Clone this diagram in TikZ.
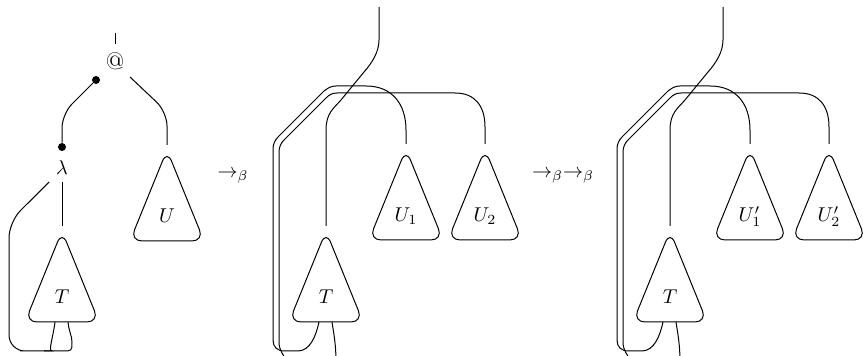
\documentclass[tikz,border=0pt]{standalone}
\usepackage{amsmath}

\tikzset{
  wire/.style={line width=0.5pt},
  tri/.style={line width=0.5pt, rounded corners=6pt},
  dot/.style={circle, fill, inner sep=0pt, minimum size=4pt}
}

% a subterm drawn as a rounded triangle, (#2,#3) is its tip
\newcommand{\subtree}[4]{%
  \draw[tri] (#2,#3-6) -- (#2-37,#3+85) -- (#2+37,#3+85) -- cycle;
  \node[anchor=base] (#1) at (#2,#3+67) {$#4$};
  \coordinate (#1-top) at (#2,#3-11);
  \coordinate (#1-l) at (#2-7,#3+85);
  \coordinate (#1-r) at (#2+6,#3+85);
}

\begin{document}
\begin{tikzpicture}[x=0.5pt, y=-0.5pt]
	\useasboundingbox (0,0) rectangle (863,356);
	\clip (0,0) rectangle (863,356);

	% Redex
	\node (app) at (115,61) {\large @};
	\coordinate (root1) at (115,33);
	\draw[wire] (root1) -- (115,44);
	\node (lam) at (62,168) {$\lambda$};
	\node[dot] (fun) at (96,80) {};
	\node[dot] (body) at (62,147) {};
	\subtree{T1}{62}{237}{T}
	\subtree{U}{167}{156}{U}
	\draw[wire, rounded corners=7pt] (fun) -- (62,114) -- (body);
	\draw[wire, rounded corners=7pt] (130,77) -- (167,112) -- (U-top);
	\draw[wire] (lam) -- (T1-top);
	% Bound variable loop
	\draw[wire, rounded corners=8pt] (lam.south west) -- (9,222) -- (9,351) -- (36,351) .. controls (48,351) and (53,338) .. (T1-l);
	\draw[wire] (T1-r) .. controls (69,332) and (72,336) .. (72,342) .. controls (72,351) .. (62,351) -- (44,351);

	\node (step1) at (233,177) {$\rightarrow_\beta$};

	% After one step
	\subtree{T2}{326}{237}{T}
	\subtree{UA}{406}{155}{U_1}
	\subtree{UB}{485}{155}{U_2}
	\coordinate (root2) at (379,7);
	\draw[wire] (root2) -- (379,40) .. controls (379,52) and (372,63) .. (364,72) -- (341,100) .. controls (334,108) and (326,113) .. (326,130) -- (T2-top);
	\draw[wire] (UA-top) -- (406,130) .. controls (406,105) and (393,86) .. (366,86) -- (336,86) .. controls (331,86) and (328,88) .. (324,91) -- (278,137) .. controls (275,140) and (273,144) .. (273,149) -- (273,340) .. controls (273,347) and (277,351) .. (285,351) -- (298,351) .. controls (310,351) and (316,336) .. (T2-l);
	\draw[wire] (UB-top) -- (485,127) .. controls (485,106) and (475,93) .. (455,93) -- (337,93) .. controls (332,93) and (329,95) .. (326,98) -- (284,140) .. controls (281,143) and (279,147) .. (279,152) -- (279,342) .. controls (279,350) and (283,355) .. (288,362);
	\draw[wire] (T2-r) .. controls (334,335) and (336,345) .. (336,362);

	\node (step2) at (563,177) {$\rightarrow_\beta\rightarrow_\beta$};

	% After further steps
	\begin{scope}[xshift=172pt]
		\subtree{T3}{326}{237}{T}
		\subtree{UC}{406}{155}{U'_1}
		\subtree{UD}{485}{155}{U'_2}
		\coordinate (root3) at (379,7);
		\draw[wire] (root3) -- (379,40) .. controls (379,52) and (372,63) .. (364,72) -- (341,100) .. controls (334,108) and (326,113) .. (326,130) -- (T3-top);
		\draw[wire] (UC-top) -- (406,130) .. controls (406,105) and (393,86) .. (366,86) -- (336,86) .. controls (331,86) and (328,88) .. (324,91) -- (278,137) .. controls (275,140) and (273,144) .. (273,149) -- (273,340) .. controls (273,347) and (277,351) .. (285,351) -- (298,351) .. controls (310,351) and (316,336) .. (T3-l);
		\draw[wire] (UD-top) -- (485,127) .. controls (485,106) and (475,93) .. (455,93) -- (337,93) .. controls (332,93) and (329,95) .. (326,98) -- (284,140) .. controls (281,143) and (279,147) .. (279,152) -- (279,342) .. controls (279,350) and (283,355) .. (288,362);
		\draw[wire] (T3-r) .. controls (334,335) and (336,345) .. (336,362);
	\end{scope}
\end{tikzpicture}
\end{document}
